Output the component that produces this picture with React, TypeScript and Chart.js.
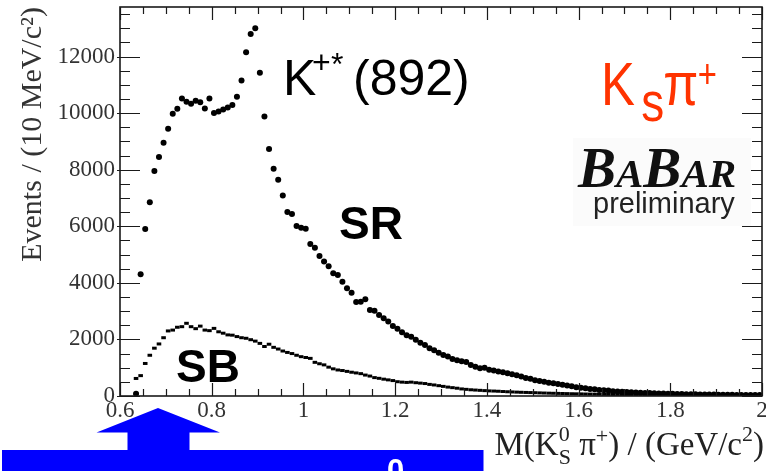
import React, { useEffect, useRef } from 'react';
import { Chart, registerables } from 'chart.js';

Chart.register(...registerables);

// Histogram binning in GeV/c^2 (10 MeV bins starting at the K_S pi threshold)
const BIN_START = 0.63;
const BIN_WIDTH = 0.01;

// Signal region: events per 10 MeV/c^2
const signalRegion: number[] = [
  80, 4300, 5900, 6850, 7950, 8450, 8950, 9450, 9980, 10150,
  10520, 10400, 10330, 10440, 10380, 10160, 10520, 10000, 10060, 10130,
  10200, 10290, 10580, 11150, 12150, 12800, 13000, 11430, 9880, 8730,
  8030, 7640, 7090, 6500, 6430, 6010, 5950, 5910, 5370, 5240,
  4950, 4750, 4590, 4340, 4280, 4040, 3810, 3650, 3320, 3330,
  3420, 3040, 3010, 2860, 2750, 2630, 2470, 2380, 2250, 2150,
  2090, 1990, 1880, 1800, 1690, 1620, 1530, 1450, 1400, 1310,
  1260, 1230, 1200, 1100, 1030, 980, 1000, 930, 900, 870,
  840, 800, 770, 730, 690, 640, 610, 560, 530, 500,
  470, 455, 420, 400, 370, 345, 310, 295, 270, 250,
  235, 215, 200, 190, 170, 160, 152, 140, 132, 122,
  116, 108, 103, 95, 91, 85, 80, 77, 71, 68,
  65, 60, 58, 56, 52, 50, 49, 46, 44, 43,
  40, 38, 37, 36, 34, 33, 32,
];

// Sideband region: events per 10 MeV/c^2
const sideband: number[] = [
  620, 720, 1150, 1440, 1690, 1840, 2060, 2300, 2330, 2430,
  2450, 2570, 2450, 2380, 2470, 2330, 2310, 2390, 2270, 2220,
  2160, 2150, 2100, 2060, 2040, 1990, 1940, 1860, 1750, 1830,
  1720, 1660, 1590, 1540, 1500, 1440, 1390, 1360, 1330, 1190,
  1140, 1100, 1020, 960, 920, 900, 870, 840, 815, 790,
  740, 705, 650, 625, 595, 570, 545, 505, 490, 480,
  490, 470, 455, 440, 410, 390, 365, 340, 315, 295,
  275, 250, 235, 220, 210, 200, 190, 180, 175, 168,
  158, 150, 143, 137, 131, 126, 121, 116, 110, 105,
  100, 96, 92, 88, 84, 80, 77, 74, 70, 67,
  64, 61, 58, 55, 52, 50, 47, 45, 43, 41,
  39, 37, 35, 33, 31, 30, 28, 27, 25, 24,
  23, 22, 21, 20, 19, 18, 17, 16, 15, 15,
  14, 13, 13, 12, 12, 11, 11,
];

const xMajorTicks: number[] = [0.6, 0.8, 1.0, 1.2, 1.4, 1.6, 1.8, 2.0];
const yMajorTicks: number[] = [0, 2000, 4000, 6000, 8000, 10000, 12000];

const X_MIN = 0.6;
const X_MAX = 2.0;
const Y_MIN = 0;
const Y_MAX = 13750;
const X_MINOR_STEP = 0.05;
const Y_MINOR_STEP = 500;

const SERIF = "'Liberation Serif', 'Times New Roman', 'DejaVu Serif', serif";
const SANS = "'Liberation Sans', Arial, Helvetica, sans-serif";

const toPoints = (vals: number[]) =>
  vals.map((v, i) => ({ x: BIN_START + BIN_WIDTH * (i + 0.5), y: v }));

// half a bin in pixels, used for the horizontal bin-width bars
const halfBinPx = (ctx: any) => {
  const s = ctx.chart.scales.x;
  if (!s) return 2.3;
  return Math.abs(s.getPixelForValue(BIN_WIDTH) - s.getPixelForValue(0)) / 2;
};

// ROOT-style frame with inward ticks on all four sides
const framePlugin = {
  id: 'rootFrame',
  afterDatasetsDraw(chart: any) {
    const { ctx, chartArea: a, scales } = chart;
    const x = scales.x;
    const y = scales.y;
    ctx.save();
    ctx.strokeStyle = '#1a1a1a';
    ctx.lineWidth = 1.6;
    ctx.strokeRect(a.left, a.top, a.right - a.left, a.bottom - a.top);
    ctx.lineWidth = 1.2;
    ctx.beginPath();
    const nx = Math.round((X_MAX - X_MIN) / X_MINOR_STEP);
    for (let i = 0; i <= nx; i++) {
      const v = X_MIN + i * X_MINOR_STEP;
      const major = i % 4 === 0;
      const len = major ? 13 : 7;
      const px = Math.round(x.getPixelForValue(v)) + 0.5;
      ctx.moveTo(px, a.bottom);
      ctx.lineTo(px, a.bottom - len);
      ctx.moveTo(px, a.top);
      ctx.lineTo(px, a.top + len);
    }
    const ny = Math.floor((Y_MAX - Y_MIN) / Y_MINOR_STEP);
    for (let i = 0; i <= ny; i++) {
      const v = Y_MIN + i * Y_MINOR_STEP;
      const major = i % 4 === 0;
      const len = major ? 20 : 10;
      const py = Math.round(y.getPixelForValue(v)) + 0.5;
      ctx.moveTo(a.left - (major ? 3 : 0), py);
      ctx.lineTo(a.left + len, py);
      ctx.moveTo(a.right, py);
      ctx.lineTo(a.right - len, py);
    }
    ctx.stroke();
    ctx.restore();
  },
};

// text pieces drawn one after the other on a shared baseline
type Piece = { t: string; font: string; dy?: number; sub?: string; subFont?: string; subDy?: number };
const drawPieces = (ctx: CanvasRenderingContext2D, pieces: Piece[], x0: number, base: number, align: 'left' | 'right') => {
  const widths = pieces.map((p) => {
    ctx.font = p.font;
    let w = ctx.measureText(p.t).width;
    if (p.sub !== undefined) {
      ctx.font = p.subFont || p.font;
      w = Math.max(w, ctx.measureText(p.sub).width);
    }
    return w;
  });
  const total = widths.reduce((s, w) => s + w, 0);
  let x = align === 'right' ? x0 - total : x0;
  pieces.forEach((p, i) => {
    ctx.font = p.font;
    ctx.fillText(p.t, x, base + (p.dy || 0));
    if (p.sub !== undefined) {
      ctx.font = p.subFont || p.font;
      ctx.fillText(p.sub, x, base + (p.subDy || 0));
    }
    x += widths[i];
  });
};

const annotationPlugin = {
  id: 'annotations',
  afterDraw(chart: any) {
    const ctx: CanvasRenderingContext2D = chart.ctx;
    ctx.save();
    ctx.textBaseline = 'alphabetic';
    ctx.textAlign = 'left';

    // x-axis title
    ctx.fillStyle = '#222';
    drawPieces(
      ctx,
      [
        { t: 'M(K', font: `33px ${SERIF}` },
        { t: '0', font: `22px ${SERIF}`, dy: -14, sub: 'S', subFont: `22px ${SERIF}`, subDy: 9 },
        { t: ' π', font: `33px ${SERIF}` },
        { t: '+', font: `22px ${SERIF}`, dy: -12 },
        { t: ') / (GeV/c', font: `33px ${SERIF}` },
        { t: '2', font: `22px ${SERIF}`, dy: -14 },
        { t: ')', font: `33px ${SERIF}` },
      ],
      764,
      455,
      'right'
    );

    // resonance label
    ctx.fillStyle = '#000';
    ctx.font = `50px ${SANS}`;
    ctx.fillText('K', 283, 95);
    ctx.font = `32px ${SANS}`;
    ctx.fillText('+', 312, 73);
    ctx.fillText('*', 331, 75);
    ctx.font = `50px ${SANS}`;
    ctx.fillText('(892)', 353, 95);

    // region labels
    ctx.font = `bold 46px ${SANS}`;
    ctx.fillText('SR', 339, 239);
    ctx.fillText('SB', 176, 382);

    // decay channel label
    ctx.fillStyle = '#ff3300';
    ctx.save();
    ctx.translate(601, 0);
    ctx.scale(0.82, 1);
    ctx.font = `62px ${SANS}`;
    ctx.fillText('K', 0, 105);
    ctx.font = `56px ${SANS}`;
    ctx.fillText('s', 49, 121);
    ctx.font = `62px ${SANS}`;
    ctx.fillText('π', 76, 105);
    ctx.font = `40px ${SANS}`;
    ctx.fillText('+', 118, 88);
    ctx.restore();

    // experiment logo
    ctx.fillStyle = '#fbfbfb';
    ctx.fillRect(573, 138, 178, 88);
    ctx.fillStyle = '#111';
    drawPieces(
      ctx,
      [
        { t: 'B', font: `italic bold 57px ${SERIF}` },
        { t: 'A', font: `italic bold 41px ${SERIF}` },
        { t: 'B', font: `italic bold 57px ${SERIF}` },
        { t: 'A', font: `italic bold 41px ${SERIF}` },
        { t: 'R', font: `italic bold 41px ${SERIF}` },
      ],
      578,
      187,
      'left'
    );
    ctx.fillStyle = '#222';
    ctx.font = `29px ${SANS}`;
    ctx.fillText('preliminary', 593, 213);

    // blue arrow and bar along the bottom edge
    ctx.fillStyle = '#0000ff';
    ctx.beginPath();
    ctx.moveTo(158, 408);
    ctx.lineTo(220, 432.5);
    ctx.lineTo(189.5, 432.5);
    ctx.lineTo(189.5, 451);
    ctx.lineTo(127.5, 451);
    ctx.lineTo(127.5, 432.5);
    ctx.lineTo(96.5, 432.5);
    ctx.closePath();
    ctx.fill();
    ctx.fillRect(2, 450, 481.5, 21);
    ctx.fillStyle = '#fff';
    ctx.font = `bold 31px ${SANS}`;
    ctx.textBaseline = 'top';
    ctx.fillText('0', 387, 457);

    ctx.restore();
  },
};

export default function App() {
  const canvasRef = useRef<HTMLCanvasElement | null>(null);

  useEffect(() => {
    const canvas = canvasRef.current;
    if (!canvas) return;
    const srPoints = toPoints(signalRegion);
    const sbPoints = toPoints(sideband);

    const chart = new Chart(canvas, {
      type: 'scatter',
      data: {
        datasets: [
          {
            label: 'SB',
            data: sbPoints,
            showLine: false,
            pointStyle: 'line',
            pointRadius: halfBinPx,
            borderColor: '#000',
            borderWidth: 3,
            backgroundColor: '#000',
          },
          {
            label: 'SR bins',
            data: srPoints,
            showLine: false,
            pointStyle: 'line',
            pointRadius: halfBinPx,
            borderColor: '#000',
            borderWidth: 2.6,
            backgroundColor: '#000',
          },
          {
            label: 'SR',
            data: srPoints,
            showLine: false,
            pointStyle: 'circle',
            pointRadius: 3,
            borderWidth: 0,
            backgroundColor: '#000',
          },
        ],
      },
      options: {
        responsive: false,
        animation: false,
        events: [],
        layout: { padding: { left: 0, right: 3, top: 7, bottom: 0 } },
        plugins: {
          legend: { display: false },
          tooltip: { enabled: false },
        },
        scales: {
          x: {
            type: 'linear',
            min: X_MIN,
            max: X_MAX,
            grid: { display: false, drawTicks: false },
            border: { display: false },
            afterBuildTicks: (s: any) => {
              s.ticks = xMajorTicks.map((v) => ({ value: v }));
            },
            afterFit: (s: any) => {
              s.height = 75;
              s.paddingLeft = 0;
              s.paddingRight = 0;
            },
            ticks: {
              autoSkip: false,
              maxRotation: 0,
              padding: 1,
              color: '#333',
              font: { family: SERIF, size: 23 },
              callback: (v: any) => String(Number(Number(v).toFixed(1))),
            },
          },
          y: {
            type: 'linear',
            min: Y_MIN,
            max: Y_MAX,
            grid: { display: false, drawTicks: false },
            border: { display: false },
            afterBuildTicks: (s: any) => {
              s.ticks = yMajorTicks.map((v) => ({ value: v }));
            },
            afterFit: (s: any) => {
              s.width = 120;
              s.paddingTop = 0;
              s.paddingBottom = 0;
            },
            ticks: {
              padding: 5,
              color: '#333',
              font: { family: SERIF, size: 23 },
              callback: (v: any) => String(v),
            },
            title: {
              display: true,
              text: 'Events / (10 MeV/c²)',
              align: 'end',
              color: '#333',
              font: { family: SERIF, size: 30 },
              padding: { top: 15, bottom: 0 },
            },
          },
        },
      },
      plugins: [framePlugin, annotationPlugin],
    } as any);

    return () => chart.destroy();
  }, []);

  return (
    <div style={{ position: 'fixed', left: 0, top: 0, width: 766, height: 471, background: '#fff', overflow: 'hidden' }}>
      <canvas ref={canvasRef} width={766} height={471} style={{ display: 'block', width: 766, height: 471 }} />
    </div>
  );
}
